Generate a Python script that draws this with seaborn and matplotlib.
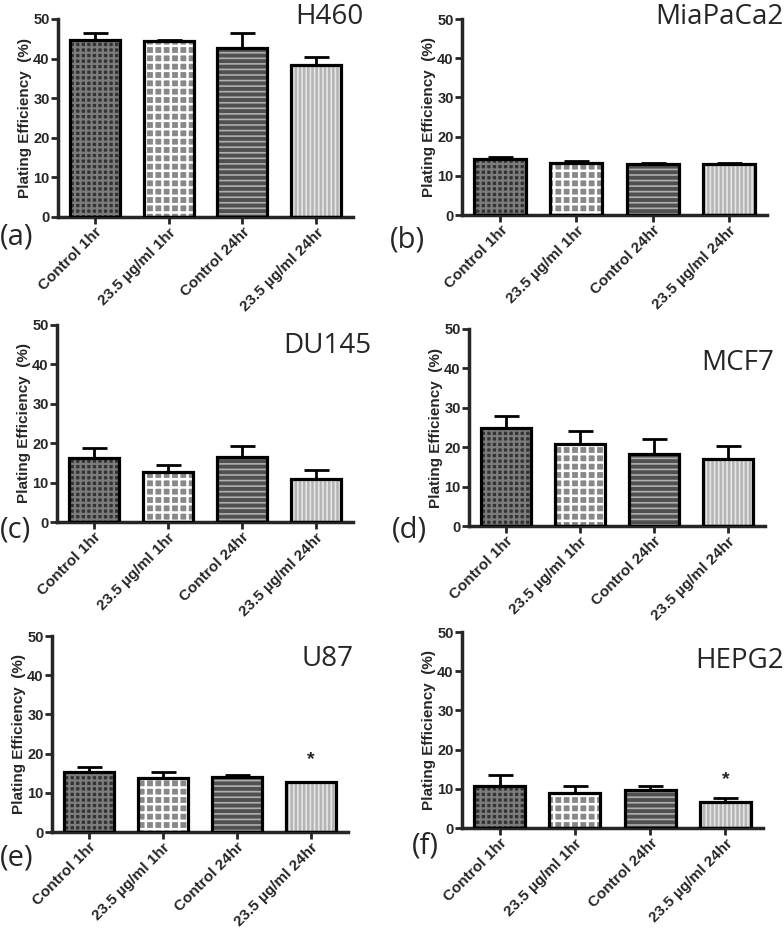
import numpy as np
import seaborn as sns
import matplotlib.pyplot as plt
from matplotlib.patches import Rectangle

sns.set_style("ticks")
plt.rcParams['font.family'] = ['Liberation Sans', 'DejaVu Sans']
plt.rcParams['hatch.linewidth'] = 1.2

groups = ['Control 1hr', '23.5 µg/ml 1hr', 'Control 24hr', '23.5 µg/ml 24hr']

# mean plating efficiency (%) and upper error (SEM) per cell line
h460 = [44.6, 44.4, 42.8, 38.4]
h460_err = [1.9, 0.4, 3.6, 2.1]
miapaca2 = [14.2, 13.2, 12.9, 12.9]
miapaca2_err = [0.5, 0.7, 0.4, 0.4]
du145 = [16.2, 12.7, 16.6, 10.9]
du145_err = [2.5, 1.8, 2.7, 2.3]
mcf7 = [25.0, 20.7, 18.4, 17.1]
mcf7_err = [3.0, 3.5, 3.6, 3.2]
u87 = [15.2, 13.8, 14.1, 12.7]
u87_err = [1.5, 1.6, 0.5, 0.1]
hepg2 = [10.8, 8.9, 9.7, 6.7]
hepg2_err = [2.7, 1.9, 1.1, 0.9]

cell_lines = ['H460', 'MiaPaCa2', 'DU145', 'MCF7', 'U87', 'HEPG2']
tags = ['(a)', '(b)', '(c)', '(d)', '(e)', '(f)']
means = [h460, miapaca2, du145, mcf7, u87, hepg2]
errs = [h460_err, miapaca2_err, du145_err, mcf7_err, u87_err, hepg2_err]
# star drawn above the significant group (None = no star)
star_group = [None, None, None, None, '23.5 µg/ml 24hr', '23.5 µg/ml 24hr']
star_level = [None, None, None, None, 18.4, 12.3]

# bar styling: face colour, hatch, hatch colour, hatch width
faces = ['#333333', '#888888', '#505050', '#b4b4b4']
hatches = ['+++', '++', '---', '||||']
hatch_cols = ['#7c7c7c', '#ffffff', '#b0b0b0', '#e6e6e6']
hatch_lw = [1.6, 1.8, 1.2, 1.2]

W, H = 784, 933
# axes boxes in pixels: left, right, y of 50, y of 0
boxes = [(58, 353, 19, 217), (462, 767, 19, 215),
         (57, 353, 325, 522), (469, 765, 329, 526),
         (52, 348, 636, 832), (462, 763, 632, 828)]
# title right edge / top, tag left / top
title_pos = [(364, 3), (783, 3), (371, 332), (774, 349), (354, 645), (784, 647)]
tag_pos = [(0, 222), (390, 226), (0, 516), (392, 516), (0, 844), (412, 832)]

fig = plt.figure(figsize=(W / 100, H / 100), dpi=100)

for i, name in enumerate(cell_lines):
    x0, x1, ytop, ybot = boxes[i]
    ax = fig.add_axes([x0 / W, 1 - ybot / H, (x1 - x0) / W, (ybot - ytop) / H])
    sns.barplot(x=groups, y=means[i], hue=groups, order=groups,
                palette=dict(zip(groups, faces)), legend=False,
                width=0.68, linewidth=0, ax=ax)
    bars = list(ax.patches)
    for p, h, hc, hl in zip(bars, hatches, hatch_cols, hatch_lw):
        p.set_hatch(h)
        p.set_edgecolor(hc)
        if hasattr(p, 'set_hatch_linewidth'):
            p.set_hatch_linewidth(hl)
    # black outline on top of the hatched fill
    for p in bars:
        ax.add_patch(Rectangle(p.get_xy(), p.get_width(), p.get_height(),
                               fill=False, ec='black', lw=2.3, zorder=3))
    ax.errorbar(np.arange(len(groups)), means[i],
                yerr=[np.zeros(len(groups)), errs[i]], fmt='none',
                ecolor='black', elinewidth=2, capsize=9, capthick=2, zorder=2)
    if star_group[i] is not None:
        ax.text(groups.index(star_group[i]), star_level[i], '*',
                ha='center', va='center', fontsize=14, fontweight='bold')

    ax.set_ylim(0, 50)
    ax.set_xlim(-0.5, 3.5)
    ax.set_yticks([0, 10, 20, 30, 40, 50])
    ax.set_ylabel('Plating Efficiency  (%)', fontsize=11, fontweight='bold', labelpad=1)
    ax.set_xlabel('')
    sns.despine(ax=ax)
    for s in ['left', 'bottom']:
        ax.spines[s].set_linewidth(2.5)
    ax.tick_params(width=2, length=5, pad=1)
    for lab in ax.get_yticklabels():
        lab.set_fontsize(10.5)
        lab.set_fontweight('bold')
    ax.set_xticks(range(len(groups)))
    ax.set_xticklabels(groups, rotation=45, ha='right', rotation_mode='anchor',
                       fontsize=11, fontweight='bold')

    tx, ty = title_pos[i]
    fig.text(tx / W, 1 - ty / H, name, ha='right', va='top', fontsize=20,
             fontweight='medium', family=['Open Sans', 'DejaVu Sans'])
    gx, gy = tag_pos[i]
    fig.text(gx / W, 1 - gy / H, tags[i], ha='left', va='top', fontsize=21,
             fontweight='medium', family=['Open Sans', 'DejaVu Sans'])

fig.savefig('out.png', dpi=100)
